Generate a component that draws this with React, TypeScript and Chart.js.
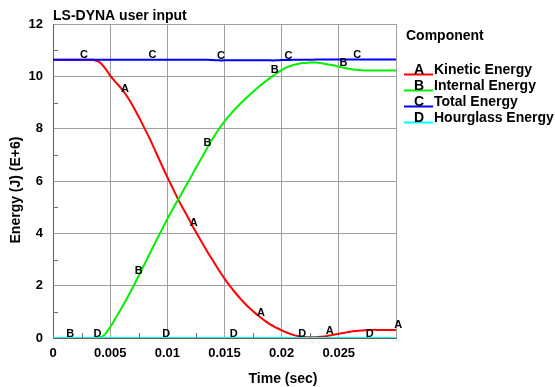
import React, { useEffect, useRef } from "react";
import { Chart, registerables } from "chart.js";

Chart.register(...registerables);

const times = [
  0, 0.0005, 0.001, 0.0015, 0.002, 0.0025, 0.003, 0.0035, 0.004, 0.0045,
  0.005, 0.0055, 0.006, 0.0065, 0.007, 0.0075, 0.008, 0.0085, 0.009, 0.0095,
  0.01, 0.0105, 0.011, 0.0115, 0.012, 0.0125, 0.013, 0.0135, 0.014, 0.0145,
  0.015, 0.0155, 0.016, 0.0165, 0.017, 0.0175, 0.018, 0.0185, 0.019, 0.0195,
  0.02, 0.0205, 0.021, 0.0215, 0.022, 0.0225, 0.023, 0.0235, 0.024, 0.0245,
  0.025, 0.0255, 0.026, 0.0265, 0.027, 0.0275, 0.028, 0.0285, 0.029, 0.0295,
  0.03,
];

const kinetic = [
  10.63, 10.63, 10.63, 10.63, 10.63, 10.63, 10.63, 10.63, 10.56, 10.34,
  10.03, 9.77, 9.52, 9.22, 8.86, 8.45, 8.02, 7.58, 7.1, 6.62,
  6.15, 5.7, 5.25, 4.85, 4.45, 4.05, 3.67, 3.3, 2.95, 2.6,
  2.27, 1.97, 1.7, 1.45, 1.22, 1.02, 0.84, 0.67, 0.52, 0.4,
  0.29, 0.2, 0.12, 0.07, 0.04, 0.03, 0.03, 0.05, 0.08, 0.12,
  0.16, 0.2, 0.24, 0.27, 0.29, 0.3, 0.31, 0.31, 0.31, 0.31,
  0.31,
];

const internal = [
  0, 0, 0, 0, 0, 0, 0, 0, 0.01, 0.12,
  0.42, 0.78, 1.15, 1.54, 1.95, 2.38, 2.82, 3.26, 3.7, 4.12,
  4.55, 4.95, 5.33, 5.72, 6.1, 6.5, 6.88, 7.27, 7.64, 7.98,
  8.28, 8.54, 8.78, 9.0, 9.21, 9.41, 9.6, 9.78, 9.94, 10.1,
  10.24, 10.35, 10.43, 10.48, 10.51, 10.53, 10.53, 10.5, 10.46, 10.42,
  10.37, 10.32, 10.28, 10.25, 10.23, 10.22, 10.22, 10.22, 10.22, 10.22,
  10.22,
];

const total = [
  10.63, 10.63, 10.63, 10.63, 10.63, 10.63, 10.63, 10.63, 10.63, 10.63,
  10.63, 10.63, 10.63, 10.63, 10.63, 10.63, 10.63, 10.63, 10.63, 10.63,
  10.63, 10.63, 10.63, 10.63, 10.63, 10.63, 10.63, 10.63, 10.62, 10.61,
  10.61, 10.61, 10.61, 10.61, 10.61, 10.61, 10.61, 10.61, 10.61, 10.61,
  10.62, 10.62, 10.63, 10.63, 10.63, 10.63, 10.64, 10.64, 10.64, 10.64,
  10.64, 10.64, 10.64, 10.64, 10.64, 10.64, 10.64, 10.64, 10.64, 10.64,
  10.64,
];

const hourglass = [
  0, 0, 0, 0, 0, 0, 0, 0, 0, 0,
  0, 0, 0, 0, 0, 0, 0, 0, 0, 0,
  0, 0, 0, 0, 0, 0, 0, 0, 0, 0,
  0, 0, 0, 0, 0, 0, 0, 0, 0, 0,
  0, 0, 0, 0, 0, 0, 0, 0, 0, 0,
  0, 0, 0, 0, 0, 0, 0, 0, 0, 0,
  0,
];

const seriesNames = ["Kinetic Energy", "Internal Energy", "Total Energy", "Hourglass Energy"];
const seriesLetters = ["A", "B", "C", "D"];
const seriesColors = ["#ff0000", "#00f000", "#0000ff", "#00ffff"];
const seriesValues = [kinetic, internal, total, hourglass];

const letterTimes = [
  [0.0063, 0.0123, 0.0182, 0.0242, 0.0302],
  [0.0015, 0.0075, 0.0135, 0.0194, 0.0254],
  [0.0027, 0.0087, 0.0147, 0.0206, 0.0266],
  [0.0039, 0.0099, 0.0158, 0.0218, 0.0277],
];

const titleText = "LS-DYNA user input";
const xTitle = "Time (sec)";
const yTitle = "Energy (J) (E+6)";
const legendTitle = "Component";
const yMinorTicks = [1, 3, 5, 7, 9, 11];
const xMinorTicks = [0.0025, 0.0075, 0.0125, 0.0175, 0.0225, 0.0275];

const FONT = "'Liberation Sans', Arial, sans-serif";

function interp(vals: number[], t: number): number {
  if (t <= times[0]) return vals[0];
  const n = times.length;
  if (t >= times[n - 1]) return vals[n - 1];
  for (let i = 0; i < n - 1; i++) {
    if (t >= times[i] && t <= times[i + 1]) {
      const f = (t - times[i]) / (times[i + 1] - times[i]);
      return vals[i] + f * (vals[i + 1] - vals[i]);
    }
  }
  return vals[n - 1];
}

const decorPlugin = {
  id: "decor",
  afterDatasetsDraw(chart: any) {
    const ctx = chart.ctx;
    const xs = chart.scales.x;
    const ys = chart.scales.y;
    const area = chart.chartArea;
    ctx.save();
    // minor ticks
    ctx.strokeStyle = "#707070";
    ctx.lineWidth = 1;
    ctx.beginPath();
    yMinorTicks.forEach((v) => {
      const y = Math.round(ys.getPixelForValue(v)) + 0.5;
      ctx.moveTo(area.left, y);
      ctx.lineTo(area.left + 5, y);
    });
    xMinorTicks.forEach((v) => {
      const x = Math.round(xs.getPixelForValue(v)) + 0.5;
      ctx.moveTo(x, area.bottom);
      ctx.lineTo(x, area.bottom - 5);
    });
    ctx.stroke();
    // curve letters
    ctx.fillStyle = "#000";
    ctx.font = `bold 11px ${FONT}`;
    ctx.textAlign = "center";
    ctx.textBaseline = "alphabetic";
    letterTimes.forEach((arr, si) => {
      arr.forEach((t) => {
        const px = xs.getPixelForValue(t);
        const py = ys.getPixelForValue(interp(seriesValues[si], t));
        ctx.fillText(seriesLetters[si], px, py - 1.5);
      });
    });
    // title
    ctx.textAlign = "left";
    ctx.font = `bold 14px ${FONT}`;
    ctx.fillText(titleText, 53, 20);
    // x title
    ctx.textAlign = "center";
    ctx.fillText(xTitle, 283, 383);
    // y title
    ctx.save();
    ctx.translate(20, 190);
    ctx.rotate(-Math.PI / 2);
    ctx.fillText(yTitle, 0, 0);
    ctx.restore();
    // legend
    ctx.textAlign = "left";
    ctx.font = `bold 14px ${FONT}`;
    ctx.fillText(legendTitle, 406, 40);
    seriesNames.forEach((name, i) => {
      const base = 73.5 + 16 * i;
      ctx.strokeStyle = seriesColors[i];
      ctx.lineWidth = 2;
      ctx.beginPath();
      ctx.moveTo(404, base + 1);
      ctx.lineTo(433, base + 1);
      ctx.stroke();
      ctx.fillStyle = "#000";
      ctx.textAlign = "center";
      ctx.fillText(seriesLetters[i], 419, base);
      ctx.textAlign = "left";
      ctx.fillText(name, 434, base);
    });
    ctx.restore();
  },
};

export default function App() {
  const ref = useRef<HTMLCanvasElement | null>(null);
  useEffect(() => {
    document.body.style.margin = "0";
    if (!ref.current) return;
    const chart = new Chart(ref.current, {
      type: "line",
      data: {
        datasets: seriesValues.map((vals, i) => ({
          label: seriesNames[i],
          data: times.map((t, j) => ({ x: t, y: vals[j] })),
          borderColor: seriesColors[i],
          borderWidth: 2,
          pointRadius: 0,
          fill: false,
          tension: 0.4,
        })).reverse(),
      },
      options: {
        animation: false,
        responsive: false,
        layout: { padding: { left: 0, top: 24, right: 159, bottom: 0 } },
        plugins: {
          legend: { display: false },
          title: { display: false },
          tooltip: { enabled: false },
        },
        scales: {
          x: {
            type: "linear",
            min: 0,
            max: 0.03,
            afterFit: (s: any) => {
              s.height = 49;
            },
            grid: { color: "#a0a0a0", drawTicks: false },
            border: { color: "#606060" },
            ticks: {
              stepSize: 0.005,
              padding: 8,
              color: "#000",
              font: { family: FONT, size: 13, weight: "bold" },
              maxRotation: 0,
              callback: (v: any) => (v >= 0.0299 ? "" : String(parseFloat(Number(v).toFixed(4)))),
            },
          },
          y: {
            min: 0,
            max: 12,
            afterFit: (s: any) => {
              s.width = 53;
            },
            grid: { color: "#a0a0a0", drawTicks: false },
            border: { color: "#606060" },
            ticks: {
              stepSize: 2,
              padding: 10,
              color: "#000",
              font: { family: FONT, size: 13, weight: "bold" },
            },
          },
        },
      },
      plugins: [decorPlugin],
    });
    return () => chart.destroy();
  }, []);
  return (
    <div style={{ width: 555, height: 387 }}>
      <canvas ref={ref} width={555} height={387} style={{ display: "block" }} />
    </div>
  );
}
